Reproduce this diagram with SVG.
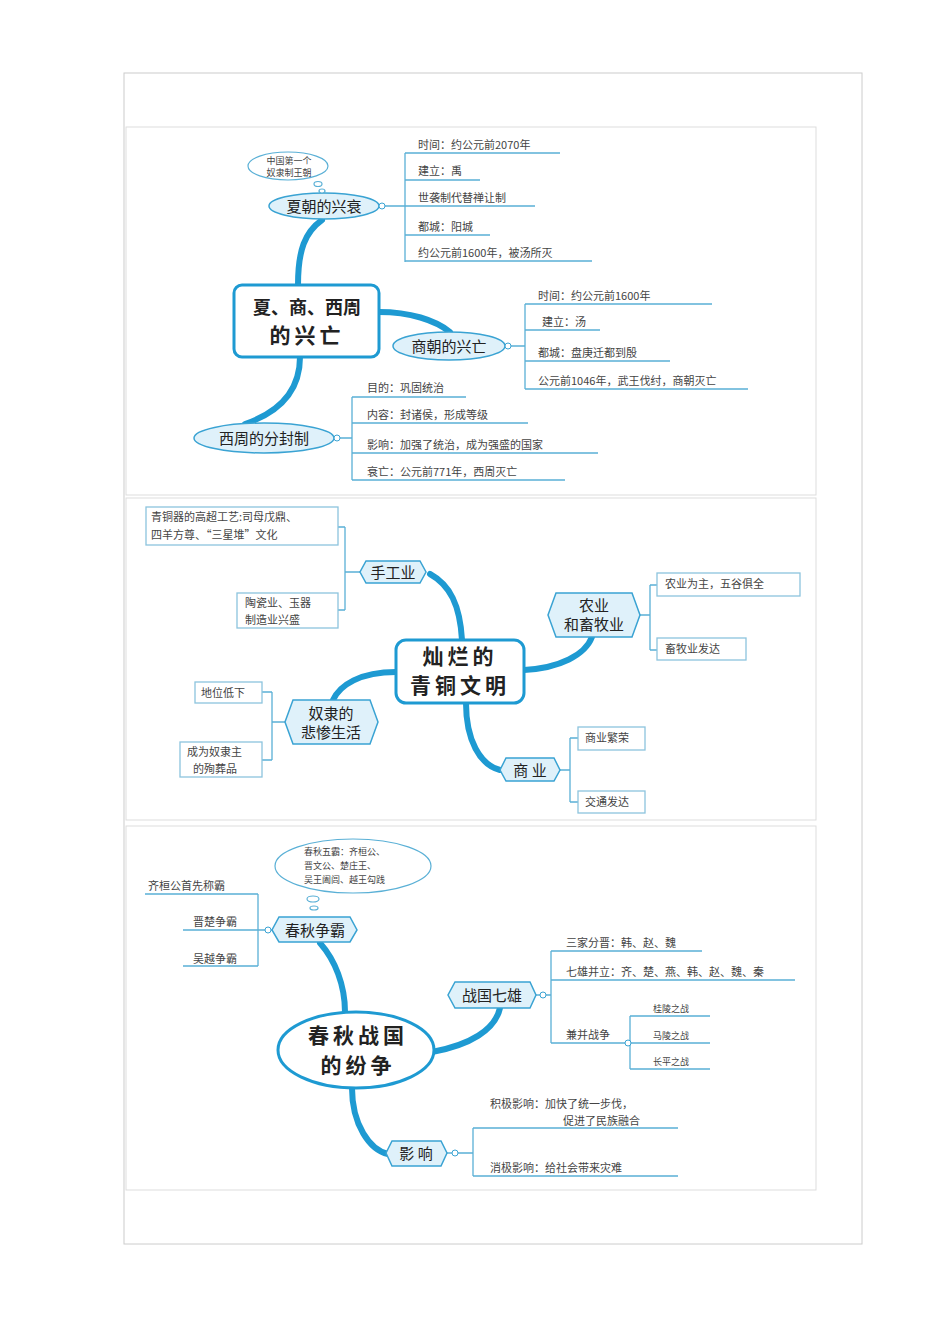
<svg xmlns="http://www.w3.org/2000/svg" width="950" height="1344" viewBox="0 0 950 1344">
<style>
text{font-family:"Noto Sans CJK SC","Noto Sans",sans-serif;fill:#333}
.t{font-size:11px;fill:#444}
.s{font-size:9px;fill:#444}
.n{font-size:15px;fill:#222}
.c{font-size:21px;font-weight:bold;fill:#222;letter-spacing:4px}
.c2{font-size:18px;font-weight:bold;fill:#222;letter-spacing:0px}
.br{fill:none;stroke:#1e9ad2;stroke-width:6;stroke-linecap:round}
.ln{fill:none;stroke:#5ab0d6;stroke-width:1.3}
.nd{fill:#dff1fa;stroke:#3aa3d3;stroke-width:1.5}
.bx{fill:#fff;stroke:#8cc4dd;stroke-width:1.3}
.dot{fill:#fff;stroke:#3aa3d3;stroke-width:1}
.th{fill:#fff;stroke:#5ab0d6;stroke-width:1.2}
.panel{fill:#fff;stroke:#ddd;stroke-width:1}
</style>
<rect width="950" height="1344" fill="#fff"/>
<rect x="124" y="73" width="738" height="1171" fill="none" stroke="#ccc"/>
<rect class="panel" x="126" y="127" width="690" height="368"/>
<rect class="panel" x="126" y="498" width="690" height="322"/>
<rect class="panel" x="126" y="826" width="690" height="364"/>

<g id="connectors">
<path class="br" d="M298 285 C298 250 305 232 322 220"/>
<path class="br" d="M379 312 C410 312 435 320 450 332"/>
<path class="br" d="M300 357 C300 390 280 412 245 424"/>
<path class="ln" d="M380 206 H405 M405 153 V262 M405 153 H560 M405 180 H480 M405 206 H535 M405 235 H490 M405 261 H592"/>
<path class="ln" d="M505 346 H525 M525 304 V389 M525 304 H712 M525 330 H600 M525 361 H670 M525 389 H748"/>
<path class="ln" d="M334 438 H352 M352 397 V480 M352 397 H466 M352 423 H528 M352 453 H598 M352 480 H565"/>

<path class="br" d="M462 640 C460 605 450 585 430 574"/>
<path class="br" d="M524 670 C560 668 585 655 592 637"/>
<path class="br" d="M396 672 C360 672 340 685 333 700"/>
<path class="br" d="M466 703 C466 740 480 765 500 770"/>
<path class="ln" d="M360 572 H345 M345 527 V610 M345 527 H338 M345 610 H338"/>
<path class="ln" d="M640 615 H650 M650 585 V650 M650 585 H657 M650 650 H657"/>
<path class="ln" d="M285 722 H272 M272 692 V760 M272 692 H262 M272 760 H262"/>
<path class="ln" d="M560 770 H570 M570 738 V802 M570 738 H578 M570 802 H578"/>

<path class="br" d="M345 1012 C345 985 335 960 320 943"/>
<path class="br" d="M432 1052 C470 1045 495 1030 500 1008"/>
<path class="br" d="M352 1088 C352 1125 370 1150 388 1154"/>
<path class="ln" d="M272 930 H258 M258 894 V966 M145 894 H258 M183 930 H258 M183 966 H258"/>
<path class="ln" d="M536 995 H551 M551 951 V1043 M551 951 H702 M551 980 H795 M551 1043 H628 M628 1043 H630 M630 1016 V1069 M630 1016 H710 M630 1043 H710 M630 1069 H710"/>
<path class="ln" d="M447 1153 H473 M473 1128 V1176 M473 1128 H678 M473 1176 H678"/>
</g>

<g id="p1-center"><rect x="234" y="285" width="145" height="72" rx="8" fill="#fff" stroke="#1e9ad2" stroke-width="3"/>
<text class="c2" x="307" y="314" text-anchor="middle">夏、商、西周</text><text class="c" x="307" y="343" text-anchor="middle">的兴亡</text></g>
<g id="xia"><ellipse class="nd" cx="324" cy="206" rx="55" ry="13"/><text class="n" x="324" y="212" text-anchor="middle">夏朝的兴衰</text><circle class="dot" cx="382" cy="206" r="3"/></g>
<g id="xia-note"><ellipse class="th" cx="288" cy="166" rx="40" ry="14"/><text class="s" x="289" y="164" text-anchor="middle">中国第一个</text><text class="s" x="289" y="176" text-anchor="middle">奴隶制王朝</text><ellipse class="th" cx="318" cy="184" rx="4" ry="2.5"/><ellipse class="th" cx="322" cy="191" rx="3" ry="2"/></g>
<g id="xia-items"><text class="t" x="418" y="149">时间：约公元前2070年</text><text class="t" x="418" y="175">建立：禹</text><text class="t" x="418" y="202">世袭制代替禅让制</text><text class="t" x="418" y="231">都城：阳城</text><text class="t" x="418" y="257">约公元前1600年，被汤所灭</text></g>
<g id="shang"><ellipse class="nd" cx="449" cy="346" rx="56" ry="14"/><text class="n" x="449" y="352" text-anchor="middle">商朝的兴亡</text><circle class="dot" cx="508" cy="346" r="3"/></g>
<g id="shang-items"><text class="t" x="538" y="300">时间：约公元前1600年</text><text class="t" x="542" y="326">建立：汤</text><text class="t" x="538" y="357">都城：盘庚迁都到殷</text><text class="t" x="538" y="385">公元前1046年，武王伐纣，商朝灭亡</text></g>
<g id="zhou"><ellipse class="nd" cx="264" cy="438" rx="70" ry="15"/><text class="n" x="264" y="444" text-anchor="middle">西周的分封制</text><circle class="dot" cx="337" cy="438" r="3"/></g>
<g id="zhou-items"><text class="t" x="367" y="392">目的：巩固统治</text><text class="t" x="367" y="419">内容：封诸侯，形成等级</text><text class="t" x="367" y="449">影响：加强了统治，成为强盛的国家</text><text class="t" x="367" y="476">衰亡：公元前771年，西周灭亡</text></g>

<g id="p2-center"><rect x="396" y="640" width="128" height="63" rx="10" fill="#fff" stroke="#1e9ad2" stroke-width="3"/>
<text class="c" x="460" y="664" text-anchor="middle" font-size="19">灿烂的</text><text class="c" x="460" y="693" text-anchor="middle" font-size="19">青铜文明</text></g>
<g id="handicraft"><polygon class="nd" points="366,561 420,561 426,572 420,583 366,583 360,572"/><text class="n" x="393" y="578" text-anchor="middle">手工业</text></g>
<g id="agri"><polygon class="nd" points="556,593 632,593 640,615 632,637 556,637 548,615"/><text class="n" x="594" y="611" text-anchor="middle">农业</text><text class="n" x="594" y="630" text-anchor="middle">和畜牧业</text></g>
<g id="slave"><polygon class="nd" points="293,700 370,700 378,722 370,744 293,744 285,722"/><text class="n" x="331" y="719" text-anchor="middle">奴隶的</text><text class="n" x="331" y="738" text-anchor="middle">悲惨生活</text></g>
<g id="commerce"><polygon class="nd" points="506,758 554,758 560,770 554,781 506,781 500,770"/><text class="n" x="530" y="776" text-anchor="middle">商 业</text></g>
<g id="b1"><rect class="bx" x="146" y="507" width="192" height="38"/><text class="t" x="151" y="521">青铜器的高超工艺:司母戊鼎、</text><text class="t" x="151" y="539">四羊方尊、“三星堆”文化</text></g>
<g id="b2"><rect class="bx" x="237" y="593" width="101" height="35"/><text class="t" x="245" y="607">陶瓷业、玉器</text><text class="t" x="245" y="624">制造业兴盛</text></g>
<g id="b3"><rect class="bx" x="657" y="573" width="143" height="23"/><text class="t" x="665" y="588">农业为主，五谷俱全</text></g>
<g id="b4"><rect class="bx" x="657" y="638" width="89" height="22"/><text class="t" x="665" y="653">畜牧业发达</text></g>
<g id="b5"><rect class="bx" x="195" y="682" width="67" height="21"/><text class="t" x="201" y="697">地位低下</text></g>
<g id="b6"><rect class="bx" x="180" y="742" width="82" height="35"/><text class="t" x="187" y="756">成为奴隶主</text><text class="t" x="193" y="773">的殉葬品</text></g>
<g id="b7"><rect class="bx" x="578" y="727" width="67" height="23"/><text class="t" x="585" y="742">商业繁荣</text></g>
<g id="b8"><rect class="bx" x="578" y="791" width="67" height="22"/><text class="t" x="585" y="806">交通发达</text></g>

<g id="p3-center"><ellipse cx="356" cy="1050" rx="78" ry="38" fill="#fff" stroke="#1e9ad2" stroke-width="3"/>
<text class="c" x="358" y="1043" text-anchor="middle">春秋战国</text><text class="c" x="358" y="1073" text-anchor="middle">的纷争</text></g>
<g id="chunqiu"><polygon class="nd" points="279,917 350,917 357,930 350,942 279,942 272,930"/><text class="n" x="315" y="936" text-anchor="middle">春秋争霸</text><circle class="dot" cx="268" cy="930" r="3"/></g>
<g id="cq-note"><ellipse class="th" cx="353" cy="866" rx="78" ry="27"/><text class="s" x="304" y="855">春秋五霸：齐桓公、</text><text class="s" x="304" y="869">晋文公、楚庄王、</text><text class="s" x="304" y="883">吴王阖闾、越王勾践</text><ellipse class="th" cx="313" cy="899" rx="6" ry="3"/><ellipse class="th" cx="314" cy="908" rx="4" ry="2"/></g>
<g id="cq-items"><text class="t" x="148" y="890">齐桓公首先称霸</text><text class="t" x="193" y="926">晋楚争霸</text><text class="t" x="193" y="963">吴越争霸</text></g>
<g id="zhanguo"><polygon class="nd" points="455,982 530,982 536,995 530,1008 455,1008 448,995"/><text class="n" x="492" y="1001" text-anchor="middle">战国七雄</text><circle class="dot" cx="543" cy="995" r="3"/></g>
<g id="zg-items"><text class="t" x="566" y="947">三家分晋：韩、赵、魏</text><text class="t" x="566" y="976">七雄并立：齐、楚、燕、韩、赵、魏、秦</text><text class="t" x="566" y="1039">兼并战争</text><circle class="dot" cx="628" cy="1043" r="3"/><text class="s" x="653" y="1012">桂陵之战</text><text class="s" x="653" y="1039">马陵之战</text><text class="s" x="653" y="1065">长平之战</text></g>
<g id="yingxiang"><polygon class="nd" points="392,1141 441,1141 447,1153 441,1166 392,1166 386,1153"/><text class="n" x="416" y="1159" text-anchor="middle">影 响</text><circle class="dot" cx="455" cy="1153" r="3"/></g>
<g id="yx-items"><text class="t" x="490" y="1108">积极影响：加快了统一步伐，</text><text class="t" x="563" y="1125">促进了民族融合</text><text class="t" x="490" y="1172">消极影响：给社会带来灾难</text></g>
</svg>
